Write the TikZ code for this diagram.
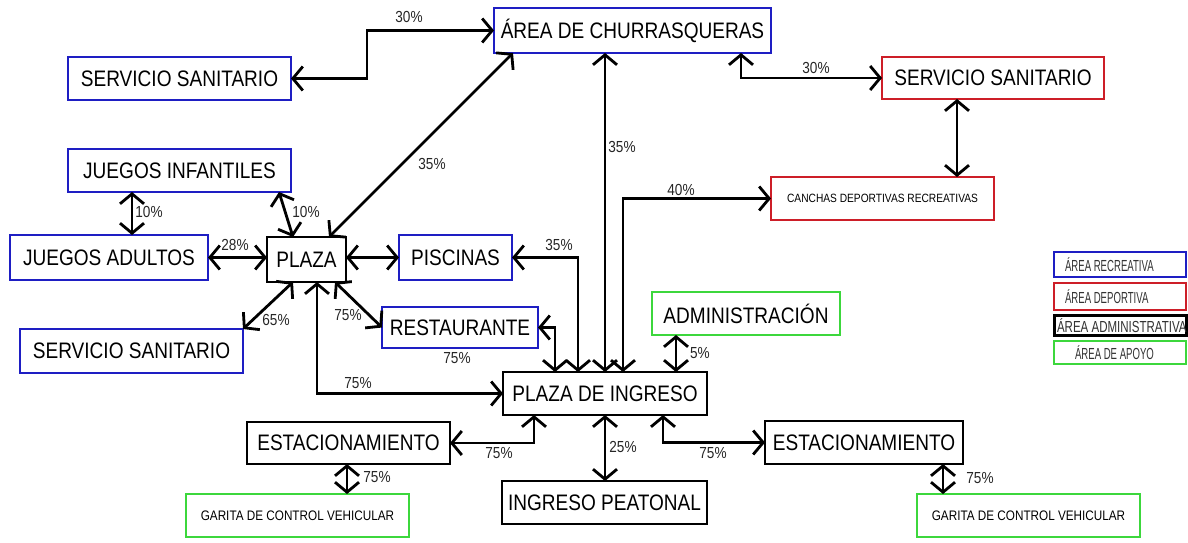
\documentclass[tikz,border=0pt]{standalone}
\usepackage{fontspec}
\setmainfont{Liberation Sans}[FakeStretch=0.85]
\newfontfamily\legfont{Liberation Sans}[FakeStretch=0.6]
\usetikzlibrary{arrows.meta}

\definecolor{recblue}{RGB}{30,30,195}
\definecolor{depred}{RGB}{205,30,40}
\definecolor{apogreen}{RGB}{60,215,60}

\begin{document}
\begin{tikzpicture}[
  x=0.5pt, y=-0.5pt,
  every node/.style={inner sep=0pt, outer sep=0pt},
  area/.style={draw=#1, line width=1pt, fill=white, text=black,
    font=\fontsize{11.2pt}{13pt}\selectfont},
  smallarea/.style={area=#1, font=\fontsize{6pt}{7pt}\selectfont},
  garita/.style={area=#1, font=\fontsize{6.9pt}{8pt}\selectfont},
  pct/.style={font=\fontsize{8pt}{9pt}\selectfont, text=black!85},
  barb/.tip={Straight Barb[length=5pt,width=12pt]},
  conn/.style={line width=1.4pt, barb-barb},
  legbox/.style={draw=#1, line width=1.1pt, fill=white, minimum width=66pt},
  legtext/.style={anchor=west, font=\legfont\fontsize{8pt}{9pt}\selectfont, text=black!80},
]
\useasboundingbox (0,0) rectangle (1188,542);

% ---- areas ----
\node[area=recblue, minimum width=138.5pt, minimum height=22.5pt] (area) at (632.5,30.5) {ÁREA DE CHURRASQUERAS};
\node[area=recblue, minimum width=111.5pt, minimum height=21.5pt] (ssl) at (179.5,78.5) {SERVICIO SANITARIO};
\node[area=depred, minimum width=111pt, minimum height=21pt] (ssr) at (993,78) {SERVICIO SANITARIO};
\node[smallarea=depred, minimum width=111.5pt, minimum height=21.5pt] (canchas) at (882.5,198.5) {CANCHAS DEPORTIVAS RECREATIVAS};
\node[area=recblue, minimum width=111.5pt, minimum height=21.5pt] (ji) at (179.5,170.5) {JUEGOS INFANTILES};
\node[area=recblue, minimum width=99pt, minimum height=22.5pt] (ja) at (109,257.5) {JUEGOS ADULTOS};
\node[area=black, minimum width=39.5pt, minimum height=22.5pt] (plaza) at (306.5,259.5) {PLAZA};
\node[area=recblue, minimum width=56.5pt, minimum height=22.5pt] (pisc) at (455.5,257.5) {PISCINAS};
\node[area=recblue, minimum width=111.5pt, minimum height=22pt] (ssb) at (131.5,351) {SERVICIO SANITARIO};
\node[area=recblue, minimum width=78pt, minimum height=20.5pt] (rest) at (460,327.5) {RESTAURANTE};
\node[area=black, minimum width=102pt, minimum height=21.5pt] (pdi) at (605,393.5) {PLAZA DE INGRESO};
\node[area=apogreen, minimum width=94pt, minimum height=21.5pt] (admin) at (746,313.5) {ADMINISTRACIÓN};
\node[area=black, minimum width=101.5pt, minimum height=21pt] (estl) at (348.5,443) {ESTACIONAMIENTO};
\node[area=black, minimum width=99pt, minimum height=21.5pt] (estr) at (864,442.5) {ESTACIONAMIENTO};
\node[garita=apogreen, minimum width=111.5pt, minimum height=21.5pt] (garl) at (297.5,515.5) {GARITA DE CONTROL VEHICULAR};
\node[garita=apogreen, minimum width=111.5pt, minimum height=21.5pt] (garr) at (1028.5,515.5) {GARITA DE CONTROL VEHICULAR};
\node[area=black, minimum width=102.5pt, minimum height=21.5pt] (ip) at (604.5,502.5) {INGRESO PEATONAL};

% ---- routing columns and bends ----
\coordinate (k1) at (367,30.5);
\coordinate (k2) at (741,0);
\coordinate (k3) at (957,0);
\coordinate (k5) at (623,0);
\coordinate (k6a) at (513,0);
\coordinate (k6b) at (329,0);
\coordinate (k7) at (132,0);
\coordinate (k8a) at (279,0);
\coordinate (k8b) at (293,0);
\coordinate (k11) at (578,0);
\coordinate (k12) at (293,0);
\coordinate (k13) at (335,0);
\coordinate (k14) at (555,0);
\coordinate (k15) at (317,0);
\coordinate (k16) at (534,0);
\coordinate (k17) at (347,0);
\coordinate (k18) at (676,0);
\coordinate (k20) at (663,0);
\coordinate (k21) at (943,0);

% ---- connectors ----
\draw[conn] (ssl.east) -| (k1) -- (area.west);
\draw[conn] (area.south -| k2) |- (ssr.west);
\draw[conn] (ssr.south -| k3) -- (canchas.north -| k3);
\draw[conn] (area.south -| pdi.north) -- (pdi.north);
\draw[conn] (pdi.north -| k5) |- (canchas.west);
\draw[conn] (area.south -| k6a) -- (plaza.north -| k6b);
\draw[conn] (ji.south -| k7) -- (ja.north -| k7);
\draw[conn] (ji.south -| k8a) -- (plaza.north -| k8b);
\draw[conn] (ja.east) -- (ja.east -| plaza.west);
\draw[conn] (pisc.west -| plaza.east) -- (pisc.west);
\draw[conn] (pisc.east) -| (pdi.north -| k11);
\draw[conn] (plaza.south -| k12) -- (ssb.north east);
\draw[conn] (plaza.south -| k13) -- (rest.west);
\draw[conn] (rest.east) -| (pdi.north -| k14);
\draw[conn] (plaza.south -| k15) |- (pdi.west);
\draw[conn] (estl.east) -| (pdi.south -| k16);
\draw[conn] (estl.south -| k17) -- (garl.north -| k17);
\draw[conn] (admin.south -| k18) -- (pdi.north -| k18);
\draw[conn] (pdi.south) -- (pdi.south |- ip.north);
\draw[conn] (pdi.south -| k20) |- (estr.west);
\draw[conn] (estr.south -| k21) -- (garr.north -| k21);

% ---- percentages ----
\node[pct] (p1) at (409,17) {30\%};
\node[pct] (p2) at (816,68) {30\%};
\node[pct] (p4) at (622,147) {35\%};
\node[pct] (p5) at (681,190) {40\%};
\node[pct] (p6) at (432,164) {35\%};
\node[pct] (p7) at (149,212) {10\%};
\node[pct] (p8) at (306,212) {10\%};
\node[pct] (p9) at (235,245) {28\%};
\node[pct] (p11) at (559,245) {35\%};
\node[pct] (p12) at (276,320) {65\%};
\node[pct] (p13) at (348,315) {75\%};
\node[pct] (p14) at (457,358) {75\%};
\node[pct] (p15) at (358,383) {75\%};
\node[pct] (p16) at (499,453) {75\%};
\node[pct] (p17) at (377,477) {75\%};
\node[pct] (p18) at (700,353) {5\%};
\node[pct] (p19) at (623,447) {25\%};
\node[pct] (p20) at (713,453) {75\%};
\node[pct] (p21) at (980,478) {75\%};

% ---- legend ----
\node[legbox=recblue, minimum height=12.5pt] (lg1) at (1120,264.5) {};
\node[legbox=depred, minimum height=13.5pt] (lg2) at (1120,296.5) {};
\node[legbox=black, line width=1.5pt, minimum height=10pt] (lg3) at (1120,325.5) {};
\node[legbox=apogreen, minimum height=11.5pt] (lg4) at (1120,352.5) {};
\node[legtext] (lg1t) at (1065,264.5) {ÁREA RECREATIVA};
\node[legtext] (lg2t) at (1065,296.5) {ÁREA DEPORTIVA};
\node[legtext] (lg3t) at (1057,325.5) {\scalebox{1.2}[1]{ÁREA ADMINISTRATIVA}};
\node[legtext] (lg4t) at (1075,352.5) {ÁREA DE APOYO};
\end{tikzpicture}
\end{document}
